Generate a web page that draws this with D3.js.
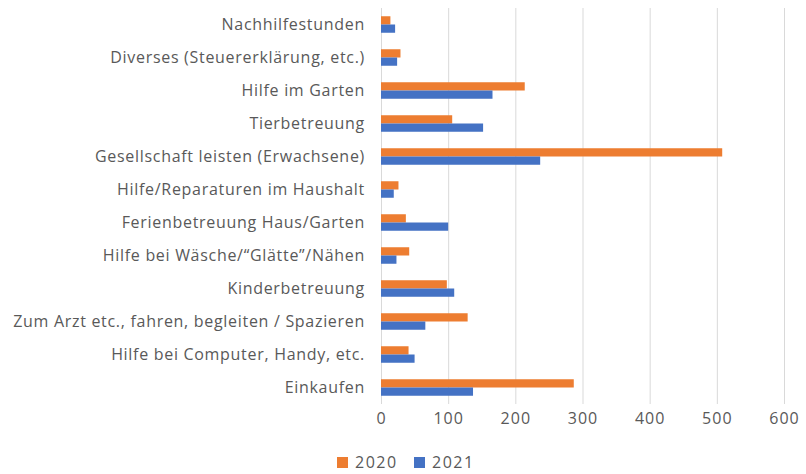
<!DOCTYPE html>
<html>
<head>
<meta charset="utf-8">
<script src="https://cdn.jsdelivr.net/npm/d3@7"></script>
<style>
    body { margin: 0; background: #fff; }
    svg text { font-family: "Open Sans", "Noto Sans", sans-serif; fill: #595959; }
</style>
</head>
<body>
<svg id="chart" width="806" height="474"></svg>
<script>
const categories = [
    "Nachhilfestunden",
    "Diverses (Steuererklärung, etc.)",
    "Hilfe im Garten",
    "Tierbetreuung",
    "Gesellschaft leisten (Erwachsene)",
    "Hilfe/Reparaturen im Haushalt",
    "Ferienbetreuung Haus/Garten",
    "Hilfe bei Wäsche/\u201CGlätte\u201D/Nähen",
    "Kinderbetreuung",
    "Zum Arzt etc., fahren, begleiten / Spazieren",
    "Hilfe bei Computer, Handy, etc.",
    "Einkaufen"
]

const values2020 = [14, 29, 214, 106, 508, 26, 37, 42, 98, 129, 41, 287]
const values2021 = [21, 24, 166, 152, 237, 19, 100, 23, 109, 66, 50, 137]
const seriesNames = ["2020", "2021"]
const seriesColors = ["#ED7D31", "#4472C4"]
const xTicks = [0, 100, 200, 300, 400, 500, 600]

const margin = {top: 8, left: 381, right: 22, bottom: 70}
const width = 806 - margin.left - margin.right
const height = 474 - margin.top - margin.bottom

const svg = d3.select("#chart")
const g = svg.append("g")
    .attr("transform", "translate(" + margin.left + "," + margin.top + ")")

const x = d3.scaleLinear()
    .domain([0, 600])
    .range([0, width])

const y = d3.scaleBand()
    .domain(categories)
    .range([0, height])
    .paddingInner(0.5)
    .paddingOuter(0.25)

const ySub = d3.scaleBand()
    .domain(seriesNames)
    .range([0, y.bandwidth()])

// gridlines
g.append("g")
    .selectAll("line")
    .data(xTicks)
    .enter()
    .append("line")
    .attr("x1", d => x(d) + 0.5)
    .attr("x2", d => x(d) + 0.5)
    .attr("y1", 0)
    .attr("y2", height)
    .attr("stroke", "#d9d9d9")
    .attr("stroke-width", 1)

// bars
const series = [values2020, values2021]
series.forEach((vals, i) => {
    g.append("g")
        .selectAll("rect")
        .data(vals)
        .enter()
        .append("rect")
        .attr("x", 0)
        .attr("y", (d, j) => y(categories[j]) + ySub(seriesNames[i]))
        .attr("width", d => x(d))
        .attr("height", ySub.bandwidth())
        .attr("fill", seriesColors[i])
})

// x axis labels
const xAxis = g.append("g")
    .attr("transform", "translate(0," + height + ")")
    .call(d3.axisBottom(x).tickValues(xTicks).tickSize(0).tickPadding(9))
xAxis.select(".domain").remove()
xAxis.selectAll("text")
    .style("font-size", "16px")
    .style("letter-spacing", "1px")
    .attr("fill", "#595959")

// y axis labels
const yAxis = g.append("g")
    .call(d3.axisLeft(y).tickSize(0).tickPadding(16))
yAxis.select(".domain").remove()
yAxis.selectAll("text")
    .style("font-size", "16px")
    .style("letter-spacing", "0.7px")
    .attr("fill", "#595959")

// legend
const legend = svg.append("g")
    .attr("transform", "translate(337,462)")
seriesNames.forEach((name, i) => {
    const item = legend.append("g").attr("transform", "translate(" + (i * 77) + ",0)")
    item.append("rect")
        .attr("x", 0)
        .attr("y", -5)
        .attr("width", 11)
        .attr("height", 11)
        .attr("fill", seriesColors[i])
    item.append("text")
        .attr("x", 18)
        .attr("y", 0)
        .attr("dy", "0.35em")
        .style("font-size", "16px")
        .style("letter-spacing", "1.5px")
        .text(name)
})
</script>
</body>
</html>
